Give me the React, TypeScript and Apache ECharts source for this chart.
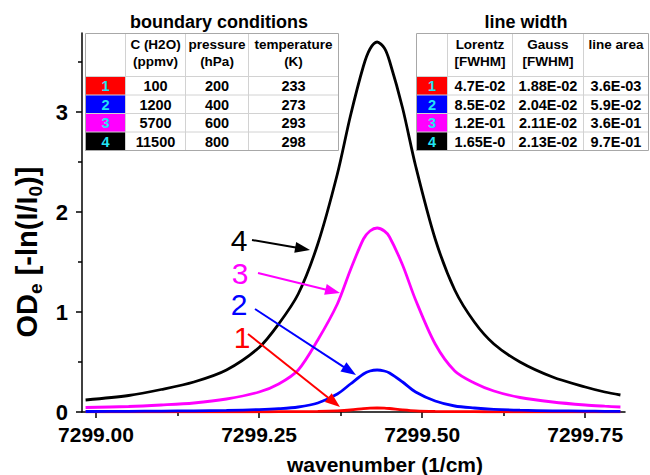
import React, { useEffect, useRef } from "react";
import * as echarts from "echarts";

// ---------- data ----------
const wavenumber = [
  7298.984, 7299.05, 7299.1, 7299.15, 7299.2, 7299.25, 7299.28, 7299.31, 7299.34, 7299.37,
  7299.39, 7299.41, 7299.42, 7299.431, 7299.442, 7299.45, 7299.47, 7299.49, 7299.52, 7299.55,
  7299.58, 7299.61, 7299.65, 7299.7, 7299.75, 7299.78, 7299.804,
];
const od1 = [
  0.001, 0.001, 0.001, 0.001, 0.002, 0.002, 0.003, 0.004, 0.006, 0.012,
  0.02, 0.034, 0.039, 0.04, 0.039, 0.035, 0.022, 0.012, 0.006, 0.004,
  0.003, 0.002, 0.002, 0.001, 0.001, 0.001, 0.001,
];
const od2 = [
  0.005, 0.007, 0.009, 0.012, 0.016, 0.024, 0.033, 0.05, 0.09, 0.18,
  0.28, 0.38, 0.41, 0.42, 0.41, 0.39, 0.3, 0.2, 0.11, 0.06,
  0.04, 0.027, 0.018, 0.012, 0.009, 0.007, 0.006,
];
const od3 = [
  0.045, 0.055, 0.07, 0.09, 0.13, 0.2, 0.28, 0.42, 0.72, 1.08,
  1.42, 1.73, 1.81, 1.84, 1.81, 1.75, 1.47, 1.12, 0.68, 0.41,
  0.29, 0.21, 0.145, 0.1, 0.07, 0.058, 0.05,
];
const od4 = [
  0.12, 0.165, 0.225, 0.3, 0.42, 0.645, 0.88, 1.18, 1.68, 2.38,
  2.96, 3.46, 3.63, 3.7, 3.64, 3.51, 3.04, 2.46, 1.73, 1.22,
  0.9, 0.68, 0.5, 0.35, 0.25, 0.2, 0.17,
];
const seriesNames = ["1", "2", "3", "4"];
const seriesValues = [od1, od2, od3, od4];

const xTickValues = [7299, 7299.25, 7299.5, 7299.75];
const xMinorTickValues = [7299.125, 7299.375, 7299.625];
const yTickValues = [0, 1, 2, 3];
const yMinorTickValues = [0.5, 1.5, 2.5, 3.5];

const bcTitle = "boundary conditions";
const bcHeaders = [["C (H2O)", "(ppmv)"], ["pressure", "(hPa)"], ["temperature", "(K)"]];
const concentration = ["100", "1200", "5700", "11500"];
const pressure = ["200", "400", "600", "800"];
const temperature = ["233", "273", "293", "298"];

const lwTitle = "line width";
const lwHeaders = [["Lorentz", "[FWHM]"], ["Gauss", "[FWHM]"], ["line area", ""]];
const lorentz = ["4.7E-02", "8.5E-02", "1.2E-01", "1.65E-0"];
const gauss = ["1.88E-02", "2.04E-02", "2.11E-02", "2.13E-02"];
const lineArea = ["3.6E-03", "5.9E-02", "3.6E-01", "9.7E-01"];

const xTitle = "wavenumber (1/cm)";

// ---------- styles / layout ----------
const FONT = '"Liberation Sans", Arial, Helvetica, sans-serif';
const seriesColors = ["#ff0000", "#0000ff", "#ff00ff", "#000000"];
const NUM_COLOR = "#22e4f4";
const X_MIN = 7298.9785;
const X_MAX = 7299.811;
const Y_MIN = 0;
const Y_MAX = 3.79;

const LEFT_COLS = [85.5, 125.5, 185.5, 248.5, 338.5];
const RIGHT_COLS = [416.5, 447.5, 512.5, 583.5, 648.5];
const TABLE_ROWS = [33.5, 76.5, 95, 113.5, 132, 150.5];
const LEFT_TITLE_X = 219;
const RIGHT_TITLE_X = 526;

const LABEL_POS = [
  [242, 337],
  [239, 304],
  [240, 273],
  [239, 240],
];
const ARROW_FROM = [
  [248, 334],
  [255, 309],
  [258, 273],
  [252, 240],
];
const ARROW_TO = [
  [340, 407],
  [356, 375],
  [340, 293],
  [310, 250],
];

function arrowEls(from: number[], to: number[], color: string) {
  const [x1, y1] = from;
  const [x2, y2] = to;
  const dx = x2 - x1;
  const dy = y2 - y1;
  const len = Math.hypot(dx, dy);
  const ux = dx / len;
  const uy = dy / len;
  const hl = 15;
  const hw = 5.5;
  const bx = x2 - ux * hl;
  const by = y2 - uy * hl;
  return [
    {
      type: "line",
      silent: true,
      z: 20,
      shape: { x1, y1, x2: bx + ux * 2, y2: by + uy * 2 },
      style: { stroke: color, lineWidth: 2 },
    },
    {
      type: "polygon",
      silent: true,
      z: 20,
      shape: {
        points: [
          [x2, y2],
          [bx - uy * hw, by + ux * hw],
          [bx + uy * hw, by - ux * hw],
        ],
      },
      style: { fill: color },
    },
  ];
}

function textEl(text: string, x: number, y: number, size: number, color: string, bold = true) {
  return {
    type: "text",
    silent: true,
    z: 30,
    x,
    y,
    style: {
      text,
      fill: color,
      fontSize: size,
      fontWeight: bold ? "bold" : "normal",
      fontFamily: FONT,
      align: "center",
      verticalAlign: "middle",
      textAlign: "center",
      textVerticalAlign: "middle",
    },
  };
}

function buildTable(cols: number[], title: string, titleX: number, headers: string[][], columns: string[][]) {
  const rows = TABLE_ROWS;
  const els: any[] = [];
  const x0 = cols[0];
  const x1 = cols[cols.length - 1];
  const y0 = rows[0];
  const y1 = rows[rows.length - 1];
  els.push({
    type: "rect",
    silent: true,
    z: 10,
    shape: { x: x0, y: y0, width: x1 - x0, height: y1 - y0 },
    style: { fill: "#ffffff", stroke: "none" },
  });
  for (let i = 0; i < seriesNames.length; i++) {
    els.push({
      type: "rect",
      silent: true,
      z: 11,
      shape: { x: cols[0], y: rows[i + 1], width: cols[1] - cols[0], height: rows[i + 2] - rows[i + 1] },
      style: { fill: seriesColors[i] },
    });
  }
  for (let c = 1; c < cols.length - 1; c++) {
    els.push({
      type: "line",
      silent: true,
      z: 12,
      shape: { x1: cols[c], y1: y0, x2: cols[c], y2: y1 },
      style: { stroke: "#d2d2d2", lineWidth: 1 },
    });
  }
  for (let r = 1; r < rows.length - 1; r++) {
    els.push({
      type: "line",
      silent: true,
      z: 12,
      shape: { x1: x0, y1: rows[r], x2: x1, y2: rows[r] },
      style: { stroke: "#d2d2d2", lineWidth: 1 },
    });
  }
  els.push({
    type: "rect",
    silent: true,
    z: 13,
    shape: { x: x0, y: y0, width: x1 - x0, height: y1 - y0 },
    style: { fill: "none", stroke: "#a8a8a8", lineWidth: 1 },
  });
  els.push(textEl(title, titleX, 22, 18, "#000"));
  for (let c = 0; c < headers.length; c++) {
    const cx = (cols[c + 1] + cols[c + 2]) / 2;
    els.push(textEl(headers[c][0], cx, 44.5, 13.5, "#000"));
    if (headers[c][1]) els.push(textEl(headers[c][1], cx, 61, 13.5, "#000"));
  }
  for (let i = 0; i < seriesNames.length; i++) {
    const cy = (rows[i + 1] + rows[i + 2]) / 2 + 0.5;
    els.push(textEl(seriesNames[i], (cols[0] + cols[1]) / 2, cy, 14.5, NUM_COLOR));
    for (let c = 0; c < columns.length; c++) {
      const cx = (cols[c + 1] + cols[c + 2]) / 2;
      els.push(textEl(columns[c][i], cx, cy, 14.5, "#000"));
    }
  }
  return els;
}

export default function App() {
  const ref = useRef<HTMLDivElement>(null);
  useEffect(() => {
    if (!ref.current) return;
    const chart = echarts.init(ref.current, null, { renderer: "svg" });
    const axisLineStyle = { color: "#000", width: 1.5 };
    const graphics: any[] = [];
    graphics.push(...buildTable(LEFT_COLS, bcTitle, LEFT_TITLE_X, bcHeaders, [concentration, pressure, temperature]));
    graphics.push(...buildTable(RIGHT_COLS, lwTitle, RIGHT_TITLE_X, lwHeaders, [lorentz, gauss, lineArea]));
    for (let i = 0; i < seriesNames.length; i++) {
      graphics.push(...arrowEls(ARROW_FROM[i], ARROW_TO[i], seriesColors[i]));
      graphics.push(textEl(seriesNames[i], LABEL_POS[i][0], LABEL_POS[i][1], 30, seriesColors[i], false));
    }
    graphics.push({
      type: "text",
      silent: true,
      z: 30,
      x: 385,
      y: 464,
      style: {
        text: xTitle,
        fill: "#000",
        fontSize: 21,
        fontWeight: "bold",
        fontFamily: FONT,
        align: "center",
        verticalAlign: "middle",
        textAlign: "center",
        textVerticalAlign: "middle",
      },
    });
    graphics.push({
      type: "text",
      silent: true,
      z: 30,
      x: 27,
      y: 252,
      rotation: Math.PI / 2,
      style: {
        text: "{m|OD}{s|e}{m| [-ln(I/I}{s|0}{m|)]}",
        fill: "#000",
        align: "center",
        verticalAlign: "middle",
        textAlign: "center",
        textVerticalAlign: "middle",
        rich: {
          m: { fontSize: 29, fontWeight: "bold", fontFamily: FONT, fill: "#000", lineHeight: 36 },
          s: {
            fontSize: 19,
            fontWeight: "bold",
            fontFamily: FONT,
            fill: "#000",
            lineHeight: 19,
            verticalAlign: "bottom",
          },
        },
      },
    });

    const option: any = {
      animation: false,
      backgroundColor: "#ffffff",
      grid: {
        left: 82,
        right: 25,
        top: 33,
        bottom: 63,
        containLabel: false,
        outerBoundsMode: "none",
      },
      xAxis: [
        {
          type: "value",
          min: X_MIN,
          max: X_MAX,
          position: "bottom",
          axisLine: { show: true, lineStyle: axisLineStyle, onZero: false },
          axisTick: { show: true, length: 6, customValues: xTickValues, lineStyle: { color: "#000", width: 1.5 } },
          axisLabel: {
            show: true,
            customValues: xTickValues,
            formatter: (v: number) => v.toFixed(2),
            fontSize: 21,
            fontWeight: "bold",
            fontFamily: FONT,
            color: "#000",
            margin: 12,
          },
          splitLine: { show: false },
        },
        {
          type: "value",
          min: X_MIN,
          max: X_MAX,
          position: "bottom",
          offset: 0,
          axisLine: { show: false },
          axisTick: { show: true, length: 4, customValues: xMinorTickValues, lineStyle: { color: "#000", width: 1.5 } },
          axisLabel: { show: false },
          splitLine: { show: false },
        },
      ],
      yAxis: [
        {
          type: "value",
          min: Y_MIN,
          max: Y_MAX,
          position: "left",
          axisLine: { show: true, lineStyle: axisLineStyle, onZero: false },
          axisTick: { show: true, length: 6, customValues: yTickValues, lineStyle: { color: "#000", width: 1.5 } },
          axisLabel: {
            show: true,
            customValues: yTickValues,
            formatter: (v: number) => String(v),
            fontSize: 22,
            lineHeight: 16,
            fontWeight: "bold",
            fontFamily: FONT,
            color: "#000",
            margin: 14,
          },
          splitLine: { show: false },
        },
        {
          type: "value",
          min: Y_MIN,
          max: Y_MAX,
          position: "left",
          offset: 0,
          axisLine: { show: false },
          axisTick: { show: true, length: 4, customValues: yMinorTickValues, lineStyle: { color: "#000", width: 1.5 } },
          axisLabel: { show: false },
          splitLine: { show: false },
        },
      ],
      series: seriesNames.map((name, i) => ({
        type: "line",
        name,
        xAxisIndex: 0,
        yAxisIndex: 0,
        data: wavenumber.map((x, j) => [x, seriesValues[i][j]]),
        showSymbol: false,
        symbol: "none",
        smooth: 0.3,
        silent: true,
        z: 2 + i,
        lineStyle: { color: seriesColors[i], width: 2.8 },
        itemStyle: { color: seriesColors[i] },
      })),
      graphic: graphics,
    };
    chart.setOption(option);
    return () => chart.dispose();
  }, []);
  return (
    <div
      ref={ref}
      style={{ position: "fixed", left: 0, top: 0, width: 650, height: 475, background: "#fff" }}
    />
  );
}
